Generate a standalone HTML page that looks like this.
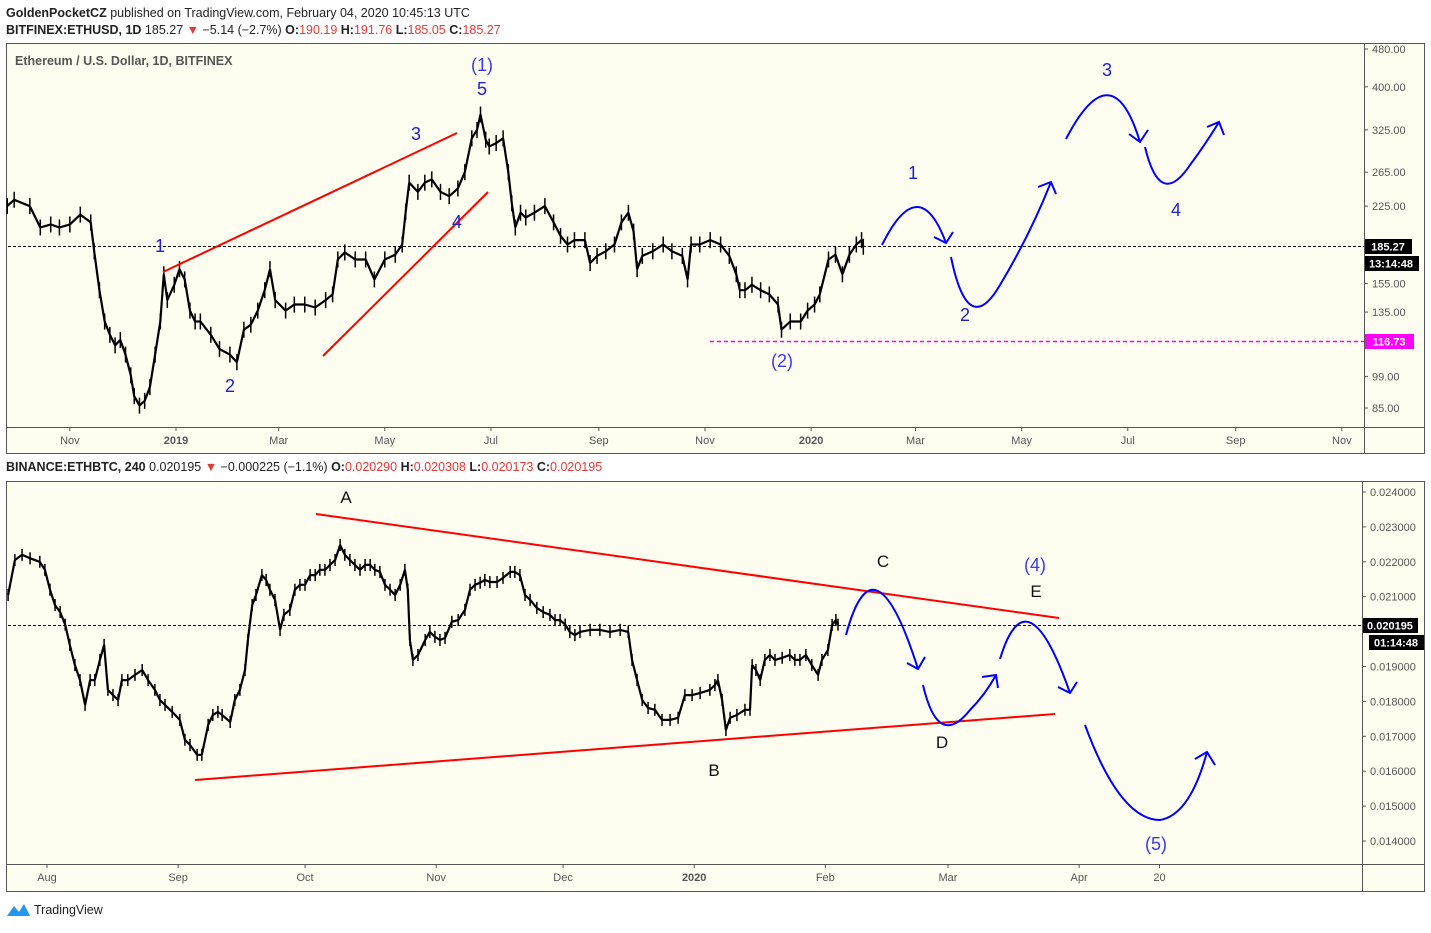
<!DOCTYPE html>
<html><head><meta charset="utf-8">
<style>
body{margin:0;background:#fff;font-family:"Liberation Sans",Arial,sans-serif;}
svg text{font-family:"Liberation Sans",Arial,sans-serif;}
</style></head>
<body>
<svg id="root" width="1431" height="928" xmlns="http://www.w3.org/2000/svg">
<rect x="0" y="0" width="1431" height="928" fill="#fff"/>
<text x="6" y="17" font-size="12.5" fill="#222"><tspan font-weight="bold">GoldenPocketCZ</tspan> published on TradingView.com, February 04, 2020 10:45:13 UTC</text>
<text x="6" y="34" font-size="12.5" fill="#222"><tspan font-weight="bold">BITFINEX:ETHUSD, 1D</tspan> 185.27 <tspan fill="#e53935">▼</tspan> −5.14 (−2.7%) <tspan font-weight="bold">O:</tspan><tspan fill="#e53935">190.19</tspan> <tspan font-weight="bold">H:</tspan><tspan fill="#e53935">191.76</tspan> <tspan font-weight="bold">L:</tspan><tspan fill="#e53935">185.05</tspan> <tspan font-weight="bold">C:</tspan><tspan fill="#e53935">185.27</tspan></text>

<g>
<rect x="6.5" y="43.5" width="1418" height="410" fill="#fdfef0" stroke="#555"/>
<line x1="6" y1="427.5" x2="1425" y2="427.5" stroke="#555"/>
<line x1="1364.5" y1="43" x2="1364.5" y2="453" stroke="#555"/>
<text x="15" y="65" font-size="12.5" font-weight="bold" fill="#555">Ethereum / U.S. Dollar, 1D, BITFINEX</text>
<g id="topTicks"></g><g id="topTime"></g>
<line x1="8" y1="246.5" x2="1364" y2="246.5" stroke="#000" stroke-dasharray="3,2"/>
<line x1="710" y1="341.5" x2="1364" y2="341.5" stroke="#ff00ff" stroke-width="1.5" stroke-dasharray="4,3"/>
<g id="topSeries"></g>
<rect x="1365" y="239" width="47" height="15" fill="#000"/>
<text x="1388" y="250.5" font-size="11" font-weight="bold" fill="#fff" text-anchor="middle">185.27</text>
<rect x="1365" y="256" width="54" height="15" fill="#000"/>
<text x="1391" y="267.5" font-size="11" font-weight="bold" fill="#fff" text-anchor="middle">13:14:48</text>
<rect x="1365" y="334" width="49" height="15" fill="#ff00ff"/>
<text x="1389" y="345.5" font-size="11" font-weight="bold" fill="#fff" text-anchor="middle">116.73</text>
<g stroke="#ff0000" stroke-width="2">
<line x1="163" y1="272" x2="457" y2="133"/><line x1="323" y1="356" x2="488" y2="192"/></g>
<g fill="none" stroke="#0000ff" stroke-width="2">
<path d="M882,245 Q919,170 946,243 M934,237 L946,243 L953,232"/>
<path d="M951,257 Q968,340 1000,285 Q1030,235 1051,182 M1038,187 L1051,182 L1056,194"/>
<path d="M1066,139 Q1112,50 1140,142 M1129,134 L1140,142 L1148,130"/>
<path d="M1145,147 Q1160,210 1190,165 Q1205,145 1219,122 M1207,127 L1219,122 L1224,135"/>
</g>
<g font-size="18" fill="#2020c8" text-anchor="middle">
<text x="482" y="71" fill="#3a3af0">(1)</text><text x="482" y="95">5</text><text x="416" y="140">3</text><text x="457" y="228">4</text><text x="160" y="252">1</text><text x="230" y="392">2</text><text x="782" y="367" fill="#3a3af0">(2)</text><text x="913" y="179">1</text><text x="965" y="321">2</text><text x="1107" y="76">3</text><text x="1176" y="216">4</text>
</g>
</g>

<text x="6" y="471" font-size="12.5" fill="#222"><tspan font-weight="bold">BINANCE:ETHBTC, 240</tspan> 0.020195 <tspan fill="#e53935">▼</tspan> −0.000225 (−1.1%) <tspan font-weight="bold">O:</tspan><tspan fill="#e53935">0.020290</tspan> <tspan font-weight="bold">H:</tspan><tspan fill="#e53935">0.020308</tspan> <tspan font-weight="bold">L:</tspan><tspan fill="#e53935">0.020173</tspan> <tspan font-weight="bold">C:</tspan><tspan fill="#e53935">0.020195</tspan></text>

<g>
<rect x="6.5" y="481.5" width="1418" height="410" fill="#fdfef0" stroke="#555"/>
<line x1="6" y1="864.5" x2="1425" y2="864.5" stroke="#555"/>
<line x1="1362.5" y1="481" x2="1362.5" y2="891" stroke="#555"/>
<g id="botTicks"></g><g id="botTime"></g>
<line x1="8" y1="625.5" x2="1362" y2="625.5" stroke="#000" stroke-dasharray="3,2"/>
<g id="botSeries"></g>
<rect x="1363" y="618" width="55" height="15" fill="#000"/>
<text x="1390" y="629.5" font-size="11" font-weight="bold" fill="#fff" text-anchor="middle">0.020195</text>
<rect x="1369" y="635" width="55" height="15" fill="#000"/>
<text x="1396" y="646.5" font-size="11" font-weight="bold" fill="#fff" text-anchor="middle">01:14:48</text>
<g stroke="#ff0000" stroke-width="2">
<line x1="316" y1="514" x2="1059" y2="618"/><line x1="195" y1="780" x2="1055" y2="714"/></g>
<g fill="none" stroke="#0000ff" stroke-width="2">
<path d="M846,635 Q874,530 918,669 M907,663 L918,669 L925,657"/>
<path d="M923,685 Q938,750 970,710 Q985,695 996,675 M982,677 L996,675 L998,688"/>
<path d="M1000,659 Q1027,570 1070,693 M1058,687 L1070,693 L1077,682"/>
<path d="M1085,725 Q1120,820 1160,820 Q1190,815 1207,752 M1195,759 L1207,752 L1215,765"/>
</g>
<g font-size="17" fill="#111" text-anchor="middle">
<text x="346" y="503">A</text><text x="714" y="776">B</text><text x="883" y="567">C</text><text x="942" y="748">D</text><text x="1036" y="597">E</text>
<text x="1035" y="571" fill="#3a3af0" font-size="18">(4)</text><text x="1156" y="850" fill="#3a3af0" font-size="18">(5)</text>
</g>
</g>

<g>
<path d="M7,916 L14,906 L19,912 L24,904 L30,916 Z" fill="#2196f3"/>
<text x="34" y="914" font-size="12.5" fill="#222">TradingView</text>
</g>
</svg>
<script>
// ---- Top chart data (ETHUSD daily, days from 2019-01-01) ----
const topDays = [-97,-93,-84,-78,-72,-67,-61,-55,-49,-47,-44,-41,-38,-35,-32,-29,-26,-24,-21,-18,-15,-12,-9,-7,-5,-1,2,5,8,11,14,20,25,31,35,39,43,47,51,54,57,63,68,74,80,86,90,93,97,103,109,114,120,126,130,132,134,139,143,147,152,157,162,166,170,173,175,178,180,184,188,191,193,195,198,201,206,212,217,221,225,229,235,238,242,247,252,256,260,263,265,268,274,280,285,291,294,296,301,307,313,318,322,324,327,331,336,341,346,348,353,359,363,367,370,375,379,383,387,391,394,395];
const topClose = [225,232,225,203,206,203,206,216,208,181,150,129,121,115,118,110,99.5,90,86,88,94,110,129,162,143,154,166,158,136,129,129,121,113,110,106,124,127,136,150,166,143,136,140,140,138,143,147,174,180,174,174,158,174,178,187,219,252,241,252,256,241,236,245,265,312,325,350,310,300,305,312,265,228,203,218,213,218,225,208,195,187,191,191,171,177,181,187,208,218,199,166,177,181,187,181,177,158,187,187,191,187,177,162,150,150,154,150,147,140,124,129,129,136,140,147,174,178,162,178,187,191,185];
const topTickVals = [480,400,325,265,225,155,135,99,85];
const topTickLabels = ["480.00","400.00","325.00","265.00","225.00","155.00","135.00","99.00","85.00"];
const topMonthDays = [-61,0,59,120,181,243,304,365,425,486,547,609,670];
const topMonthLabels = ["Nov","2019","Mar","May","Jul","Sep","Nov","2020","Mar","May","Jul","Sep","Nov"];

// ---- Bottom chart data (ETHBTC 4h, days from 2019-08-01) ----
const botDays = [-9.2,-7.6,-5.9,-4.0,-1.7,-0.5,0.7,1.9,3.1,4.3,5.4,6.6,7.8,9.0,10.2,11.3,12.5,13.5,14.4,15.6,16.8,17.7,19.1,20.8,22.5,23.9,25.5,26.7,27.9,29.6,31.4,32.6,33.8,35.5,36.6,38.1,39.2,40.4,41.4,43.3,44.4,45.6,46.8,47.5,48.5,49.4,50.8,51.8,52.7,53.9,55.1,56.0,57.4,58.6,59.8,61.0,62.2,63.4,64.5,65.7,66.9,68.1,69.3,70.4,71.6,72.8,74.0,75.2,76.4,77.5,78.7,79.9,81.1,82.3,83.5,84.6,85.3,85.8,86.5,87.7,89.4,90.5,91.7,92.9,94.1,95.7,97.2,98.8,100.0,101.2,102.4,103.5,104.7,106.4,107.8,109.5,110.6,111.8,113.0,114.2,115.8,117.3,118.9,120.1,121.3,122.5,123.6,124.8,126.0,128.4,130.7,133.1,135.5,137.4,138.3,139.5,140.7,142.1,143.7,145.4,147.3,149.2,150.8,152.5,154.4,156.7,157.9,158.6,159.6,160.5,161.5,163.1,165.0,166.2,166.7,167.6,168.6,169.7,170.9,172.1,173.8,175.6,176.8,178.0,179.4,180.8,182.3,183.2,184.6,185.6,186.5,187.0];
const botClose = [0.02105,0.02205,0.0222,0.0221,0.0220,0.02177,0.0212,0.02076,0.02056,0.0202,0.01962,0.01904,0.01861,0.0179,0.01861,0.01861,0.01919,0.01962,0.01833,0.01818,0.01804,0.01861,0.01861,0.01876,0.0189,0.01861,0.01833,0.01804,0.0179,0.0177,0.01747,0.0169,0.01675,0.01647,0.01647,0.01733,0.01761,0.0177,0.01761,0.01741,0.01804,0.01833,0.0189,0.01976,0.02076,0.02105,0.02162,0.02148,0.0212,0.02091,0.02005,0.02048,0.02062,0.0212,0.02134,0.02134,0.02162,0.02162,0.02177,0.02177,0.02191,0.02205,0.02248,0.0222,0.02205,0.02191,0.02177,0.02191,0.02191,0.02177,0.02171,0.02134,0.0212,0.02105,0.02134,0.02177,0.0212,0.01976,0.01919,0.01933,0.01976,0.01999,0.01985,0.01976,0.01982,0.02028,0.02033,0.02062,0.0212,0.02134,0.0214,0.02148,0.02142,0.02142,0.02154,0.02171,0.02171,0.02162,0.02105,0.02091,0.02068,0.02056,0.02048,0.02033,0.02033,0.0202,0.01999,0.0199,0.01999,0.02005,0.02005,0.01999,0.02005,0.01999,0.01919,0.01861,0.01804,0.01781,0.01776,0.01747,0.01747,0.01753,0.01818,0.01818,0.01824,0.01833,0.01847,0.01861,0.01804,0.01718,0.01753,0.01761,0.01776,0.01776,0.01904,0.0189,0.01861,0.01919,0.01933,0.01919,0.01925,0.01933,0.01919,0.01919,0.01933,0.01904,0.01876,0.01919,0.01947,0.02019,0.02033,0.0202];
const botTickVals = [0.024,0.023,0.022,0.021,0.019,0.018,0.017,0.016,0.015,0.014];
const botTickLabels = ["0.024000","0.023000","0.022000","0.021000","0.019000","0.018000","0.017000","0.016000","0.015000","0.014000"];
const botMonthDays = [0,31,61,92,122,153,184,213,244,263];
const botMonthLabels = ["Aug","Sep","Oct","Nov","Dec","2020","Feb","Mar","Apr","20"];

const NS = "http://www.w3.org/2000/svg";
const topX = d => 176 + d * 1.74;
const topY = p => 49 + (Math.log(480) - Math.log(p)) * 207.4;
const botX = d => 47 + d * 4.23;
const botY = p => 492 + (0.024 - p) * 34900;

function mk(tag, attrs, parent) {
  const e = document.createElementNS(NS, tag);
  for (const k in attrs) e.setAttribute(k, attrs[k]);
  parent.appendChild(e);
  return e;
}

function drawSeries(days, vals, fx, fy, gid, tw) {
  const g = document.getElementById(gid);
  let pts = [];
  for (let i = 0; i < days.length; i++) pts.push(fx(days[i]).toFixed(1) + "," + fy(vals[i]).toFixed(1));
  const pl = mk("polyline", {points: pts.join(" "), fill: "none", stroke: "#000", "stroke-width": "2.2", "stroke-linejoin": "bevel"}, g);
  
  
  for (let i = 0; i < days.length; i++) {
    const x = fx(days[i]), y = fy(vals[i]);
    const b = mk("line", {x1: x, x2: x, y1: y - tw, y2: y + tw, stroke: "#000", "stroke-width": "1.5"}, g);
    
    
  }
}

function drawPriceTicks(vals, labels, fy, gid, axisX) {
  const g = document.getElementById(gid);
  for (let i = 0; i < vals.length; i++) {
    const y = fy(vals[i]);
    mk("line", {x1: axisX, x2: axisX + 4, y1: y, y2: y, stroke: "#555"}, g);
    const t = mk("text", {x: axisX + 8, y: y + 4, "font-size": "11", fill: "#555"}, g);
    t.textContent = labels[i];
    
    
  }
}

function drawTimeTicks(days, labels, fx, gid, axisY) {
  const g = document.getElementById(gid);
  for (let i = 0; i < days.length; i++) {
    const x = fx(days[i]);
    mk("line", {x1: x, x2: x, y1: axisY, y2: axisY + 4, stroke: "#555"}, g);
    const isYear = /^20\d\d$/.test(labels[i]);
    const t = mk("text", {x: x, y: axisY + 17, "font-size": "11", fill: "#555", "text-anchor": "middle", "font-weight": isYear ? "bold" : "normal"}, g);
    t.textContent = labels[i];
    
    
  }
}

drawPriceTicks(topTickVals, topTickLabels, topY, "topTicks", 1364);
drawTimeTicks(topMonthDays, topMonthLabels, topX, "topTime", 427);
drawSeries(topDays, topClose, topX, topY, "topSeries", 8);
drawPriceTicks(botTickVals, botTickLabels, botY, "botTicks", 1362);
drawTimeTicks(botMonthDays, botMonthLabels, botX, "botTime", 864);
drawSeries(botDays, botClose, botX, botY, "botSeries", 6);
</script>
</body></html>
